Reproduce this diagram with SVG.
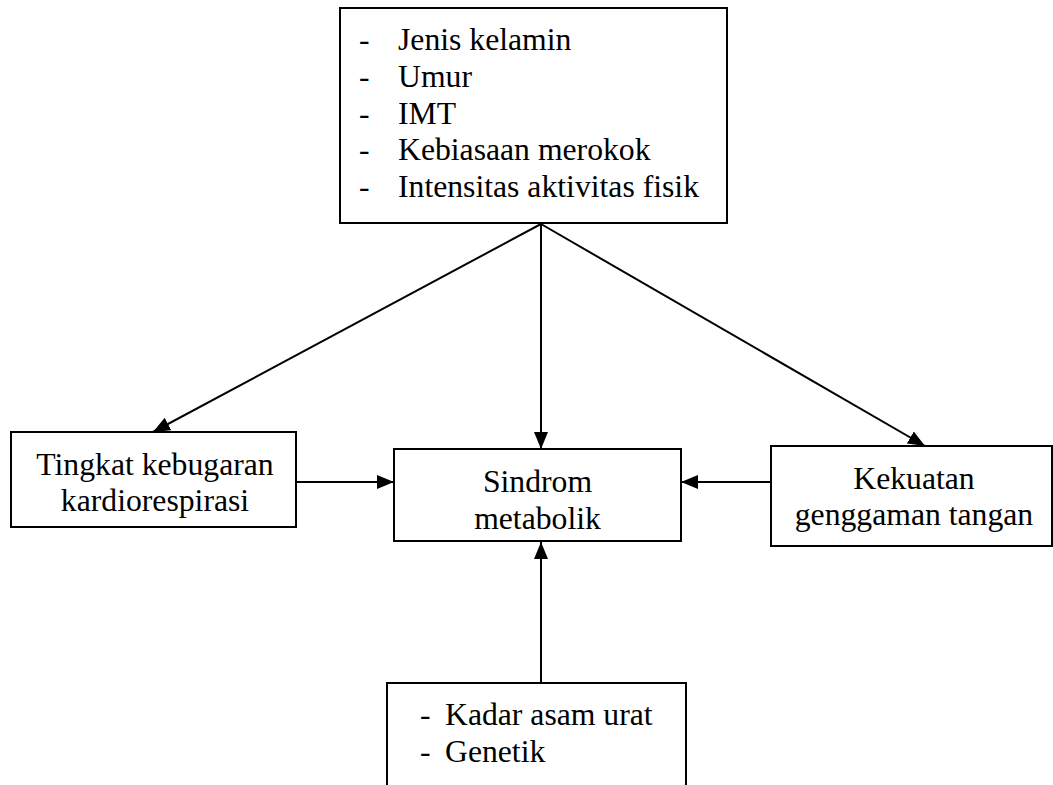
<svg xmlns="http://www.w3.org/2000/svg" width="1053" height="785" viewBox="0 0 1053 785">
<style>
.box{fill:#fff;stroke:#000;stroke-width:2}
.c{text-anchor:middle}
.edge{stroke:#000;stroke-width:2;fill:none;marker-end:url(#arr)}
</style>
<defs>
<marker id="arr" markerUnits="userSpaceOnUse" markerWidth="17" markerHeight="14" refX="17" refY="7" orient="auto">
<path d="M0,0 L17,7 L0,14 z" fill="#000"/>
</marker>
</defs>
<rect width="1053" height="785" fill="#fff"/>
<g id="edges">
<line class="edge" x1="541" y1="224" x2="153" y2="432"/>
<line class="edge" x1="541" y1="224" x2="541" y2="449"/>
<line class="edge" x1="541" y1="224" x2="925" y2="446"/>
<line class="edge" x1="296" y1="482" x2="394" y2="482"/>
<line class="edge" x1="771" y1="482" x2="681" y2="482"/>
<line class="edge" x1="541" y1="683" x2="541" y2="542"/>
</g>
<g font-family="'Liberation Serif', 'Times New Roman', serif" font-size="31.7" fill="#000">
<g id="top">
<rect class="box" x="340" y="8" width="387" height="215"/>
<text x="359" y="50">-</text><text x="398" y="50">Jenis kelamin</text>
<text x="359" y="87">-</text><text x="398" y="87">Umur</text>
<text x="359" y="124">-</text><text x="398" y="124">IMT</text>
<text x="359" y="160">-</text><text x="398" y="160">Kebiasaan merokok</text>
<text x="359" y="197">-</text><text x="398" y="197">Intensitas aktivitas fisik</text>
</g>
<g id="left">
<rect class="box" x="11" y="432" width="285" height="95"/>
<text class="c" x="155" y="475">Tingkat kebugaran</text>
<text class="c" x="155" y="511">kardiorespirasi</text>
</g>
<g id="center">
<rect class="box" x="394" y="449" width="287" height="92"/>
<text class="c" x="537.5" y="492">Sindrom</text>
<text class="c" x="537.5" y="529">metabolik</text>
</g>
<g id="right">
<rect class="box" x="771" y="446" width="281" height="100"/>
<text class="c" x="914" y="489">Kekuatan</text>
<text class="c" x="914" y="525">genggaman tangan</text>
</g>
<g id="bottom">
<rect class="box" x="387" y="683" width="299" height="120"/>
<text x="420" y="725">-</text><text x="445" y="725">Kadar asam urat</text>
<text x="420" y="762">-</text><text x="445" y="762">Genetik</text>
</g>
</g>
</svg>
